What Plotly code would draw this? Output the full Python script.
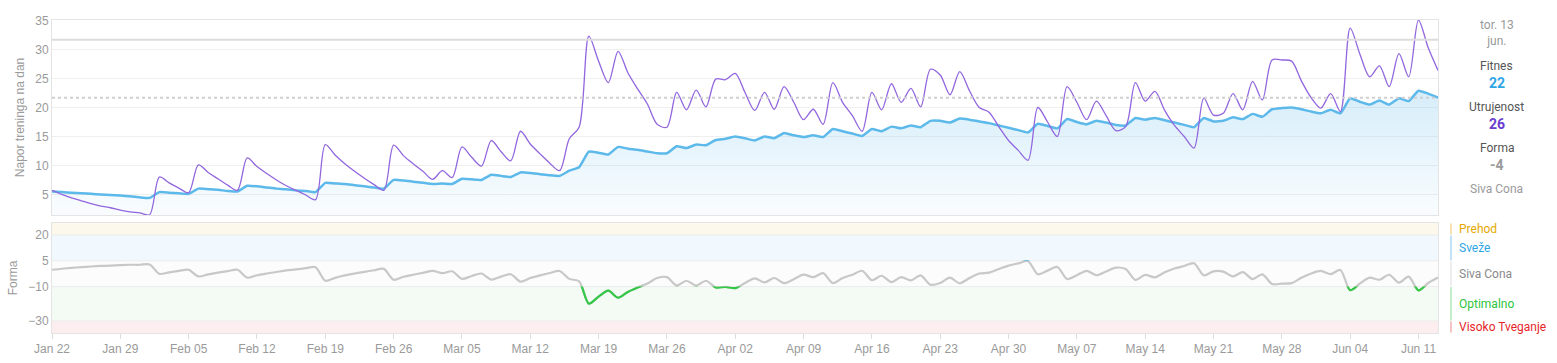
import pandas as pd
import plotly.graph_objects as go

# ---------------- data ----------------
start_date = "2023-01-22"
end_date = "2023-06-13"
dates = pd.date_range(start_date, end_date, freq="D")

fatigue = [
    5.7, 5.0, 4.4, 3.9, 3.4, 3.0, 2.7, 2.3, 2.0, 1.8,
    1.5, 8.0, 7.0, 6.1, 5.3, 10.1, 8.8, 7.7, 6.6, 5.7,
    11.3, 9.8, 8.6, 7.5, 6.5, 5.7, 4.9, 4.1, 13.6, 11.8,
    10.3, 9.0, 7.8, 6.7, 5.7, 13.5, 11.7, 10.3, 9.0, 7.6,
    9.1, 7.9, 13.2, 11.4, 9.9, 14.3, 12.4, 10.8, 15.9, 13.7,
    12.0, 10.4, 9.1, 14.6, 16.6, 32.3, 28.0, 24.3, 29.7, 26.0,
    23.2, 20.6, 17.1, 16.6, 22.6, 19.6, 23.0, 20.1, 24.9, 24.8,
    25.9, 22.6, 19.5, 22.6, 19.7, 23.6, 20.9, 17.9, 19.7, 17.1,
    24.3, 20.9, 18.6, 15.9, 22.6, 19.6, 24.1, 20.9, 23.3, 20.1,
    26.6, 25.6, 22.2, 26.2, 22.9, 20.0, 19.2, 16.7, 14.3, 12.6,
    10.9, 20.0, 17.5, 15.0, 23.6, 20.9, 17.9, 21.1, 18.6, 16.0,
    16.7, 24.3, 21.1, 22.8, 19.5, 16.9, 15.0, 13.0, 21.6, 18.7,
    19.0, 22.4, 19.6, 24.5, 21.3, 28.2, 28.2, 28.0, 24.6, 21.7,
    19.9, 22.4, 19.3, 33.7, 29.2, 25.3, 27.2, 23.6, 29.3, 25.3,
    35.1, 30.3, 26.4,
]

fitness = [
    5.5, 5.4, 5.3, 5.2, 5.1, 5.0, 4.9, 4.8, 4.7, 4.5,
    4.4, 5.4, 5.3, 5.2, 5.1, 6.0, 5.9, 5.8, 5.6, 5.5,
    6.5, 6.4, 6.2, 6.0, 5.9, 5.7, 5.6, 5.4, 7.0, 6.9,
    6.8, 6.6, 6.4, 6.2, 6.0, 7.5, 7.4, 7.2, 7.0, 6.8,
    6.9, 6.8, 7.7, 7.6, 7.5, 8.4, 8.2, 8.0, 8.8, 8.7,
    8.5, 8.3, 8.2, 9.1, 9.7, 12.4, 12.2, 11.9, 13.2, 12.9,
    12.7, 12.4, 12.1, 12.1, 13.3, 13.0, 13.6, 13.5, 14.4, 14.6,
    15.0, 14.7, 14.3, 15.0, 14.7, 15.6, 15.2, 14.9, 15.2, 14.9,
    16.3, 15.9, 15.5, 15.1, 16.3, 15.9, 16.7, 16.4, 16.9, 16.6,
    17.7, 17.7, 17.4, 18.1, 17.9, 17.6, 17.3, 16.9, 16.5, 16.1,
    15.7, 17.2, 16.8, 16.4, 18.0, 17.5, 17.1, 17.7, 17.4, 17.0,
    16.9, 18.2, 17.9, 18.2, 17.8, 17.4, 17.0, 16.6, 18.2, 17.6,
    17.7, 18.3, 18.0, 18.9, 18.4, 19.7, 19.9, 20.0, 19.7, 19.3,
    19.0, 19.6, 19.0, 21.6, 21.0, 20.5, 21.2, 20.5, 21.6, 21.1,
    22.9, 22.4, 21.7,
]

# Form (as the app shows it) = fitness - fatigue of the same day
form = [round(f - a, 1) for f, a in zip(fitness, fatigue)]

ref_solid = 31.7      # solid grey reference line (top chart)
ref_dotted = 21.7     # dotted grey line (current fitness)

zone_names = ["Prehod", "Sveže", "Siva Cona", "Optimalno", "Visoko Tveganje"]
zone_bounds = [(20, 27), (5, 20), (-10, 5), (-30, -10), (-37, -30)]
zone_fill = ["#fdf8ec", "#f1f8fe", "#fcfcfc", "#f4fbf4", "#fcedee"]
zone_bar = ["#f5e2b0", "#c3e2f5", "#eeeeee", "#c5ecc8", "#f4c4c4"]
zone_text = ["#e6a800", "#2ea6e6", "#8a8a8a", "#2cc43c", "#e8262a"]
form_ticks = [20, 5, -10, -30]

panel_date = "tor. 13<br>jun."
panel_fitness = "22"
panel_fatigue = "26"
panel_form = "-4"
panel_zone = "Siva Cona"

# ---------------- layout geometry ----------------
W, H = 1557, 363
ML, MR, MT, MB = 52, 119, 20, 30
PH = H - MT - MB
def py(ypix):
    return (H - MB - ypix) / PH
def px(xpix):
    return (xpix - ML) / (W - ML - MR)

top_dom = [py(215), 1.0]
bot_dom = [0.0, py(223)]
top_range = [1.45, 35.1]
bot_range = [-37, 27]

def sub_dom(lo, hi):
    span = bot_range[1] - bot_range[0]
    h = bot_dom[1] - bot_dom[0]
    return [bot_dom[0] + (lo - bot_range[0]) / span * h,
            bot_dom[0] + (hi - bot_range[0]) / span * h]

AX_FONT = dict(family="Liberation Sans, Arial, sans-serif", size=12, color="#9a9a9a")
TXT_FONT = "Roboto, Arial, sans-serif"

fig = go.Figure()

# fitness (with gradient fill)
fig.add_trace(go.Scatter(
    x=dates, y=fitness, mode="lines", name="Fitnes",
    line=dict(color="#5cb9ea", width=2.5, shape="spline", smoothing=0.4),
    fill="tozeroy",
    fillgradient=dict(type="vertical", start=0, stop=22,
                      colorscale=[[0, "rgba(92,184,235,0.02)"], [1, "rgba(92,184,235,0.24)"]]),
    xaxis="x", yaxis="y", hoverinfo="skip", showlegend=False,
))
# fatigue
fig.add_trace(go.Scatter(
    x=dates, y=fatigue, mode="lines", name="Utrujenost",
    line=dict(color="#9166de", width=1.3, shape="spline", smoothing=0.85),
    xaxis="x", yaxis="y", hoverinfo="skip", showlegend=False,
))

# form: grey everywhere, coloured within zones via clipped overlay axes
fig.add_trace(go.Scatter(
    x=dates, y=form, mode="lines",
    line=dict(color="#c8c8c8", width=2.2, shape="spline", smoothing=0.8),
    xaxis="x2", yaxis="y2", hoverinfo="skip", showlegend=False,
))
fig.add_trace(go.Scatter(
    x=dates, y=form, mode="lines",
    line=dict(color="#33c845", width=2.2, shape="spline", smoothing=0.8),
    xaxis="x3", yaxis="y3", hoverinfo="skip", showlegend=False,
))
fig.add_trace(go.Scatter(
    x=dates, y=form, mode="lines",
    line=dict(color="#4db5ea", width=2.2, shape="spline", smoothing=0.8),
    xaxis="x4", yaxis="y4", hoverinfo="skip", showlegend=False,
))

xr = [start_date, end_date]
common_x = dict(range=xr, type="date", showgrid=False, zeroline=False, automargin=False)
fig.update_layout(
    width=W, height=H,
    margin=dict(l=ML, r=MR, t=MT, b=MB, autoexpand=False),
    paper_bgcolor="white", plot_bgcolor="rgba(0,0,0,0)",
    showlegend=False,
    xaxis=dict(**common_x, domain=[0, 1], anchor="y", showticklabels=False,
               showline=True, mirror=True, linecolor="#e4e4e4", linewidth=1, ticks=""),
    yaxis=dict(domain=top_dom, range=top_range, anchor="x", automargin=False,
               tickvals=[5, 10, 15, 20, 25, 30, 35], tickfont=AX_FONT,
               showgrid=True, gridcolor="#efefef", gridwidth=1, zeroline=False,
               showline=True, mirror=True, linecolor="#e4e4e4", linewidth=1,
               ticks="", ticklen=0,
               title=dict(text="Napor treninga na dan", font=AX_FONT, standoff=8)),
    xaxis2=dict(**common_x, domain=[0, 1], anchor="y2", tickformat="%b %d",
                tick0="2023-01-22", dtick=7 * 86400000, tickfont=AX_FONT,
                ticks="outside", ticklen=5, tickcolor="#dddddd",
                showline=True, mirror=True, linecolor="#e4e4e4", linewidth=1),
    yaxis2=dict(domain=bot_dom, range=bot_range, anchor="x2", automargin=False,
                tickvals=form_ticks, tickfont=AX_FONT, showgrid=False, zeroline=False,
                showline=True, mirror=True, linecolor="#e4e4e4", linewidth=1,
                ticks="",
                title=dict(text="Forma", font=AX_FONT, standoff=8)),
    xaxis3=dict(**common_x, domain=[0, 1], anchor="y3", visible=False),
    yaxis3=dict(domain=sub_dom(-30, -10), range=[-30, -10], anchor="x3", visible=False,
                automargin=False),
    xaxis4=dict(**common_x, domain=[0, 1], anchor="y4", visible=False),
    yaxis4=dict(domain=sub_dom(5, 20), range=[5, 20], anchor="x4", visible=False,
                automargin=False),
)

shapes = []
# zone background bands and legend bars
for (lo, hi), fc, bc in zip(zone_bounds, zone_fill, zone_bar):
    shapes.append(dict(type="rect", xref="x2 domain", yref="y2", x0=0, x1=1, y0=lo, y1=hi,
                       fillcolor=fc, line=dict(width=0), layer="below"))
    shapes.append(dict(type="line", xref="paper", yref="y2", x0=px(1451), x1=px(1451),
                       y0=lo + 0.3, y1=hi - 0.3, line=dict(color=bc, width=2)))
for b in [20, 5, -10, -30]:
    shapes.append(dict(type="line", xref="x2 domain", yref="y2", x0=0, x1=1, y0=b, y1=b,
                       line=dict(color="#ececec", width=1), layer="below"))
# reference lines on top chart
shapes.append(dict(type="line", xref="x domain", yref="y", x0=0, x1=1, y0=ref_solid, y1=ref_solid,
                   line=dict(color="#dcdcdc", width=2)))
shapes.append(dict(type="line", xref="x domain", yref="y", x0=0, x1=1, y0=ref_dotted, y1=ref_dotted,
                   line=dict(color="#cfcfcf", width=2, dash="dot")))
fig.update_layout(shapes=shapes)

ann = []
for name, (lo, hi), tc in zip(zone_names, zone_bounds, zone_text):
    ann.append(dict(text=name, xref="paper", yref="y2", x=px(1457), y=(lo + hi) / 2,
                    xanchor="left", yanchor="middle", showarrow=False,
                    font=dict(family=TXT_FONT, size=12, color=tc)))

cx = px(1497)
def panel(text, ypix, color, size=12, bold=False):
    t = f"<b>{text}</b>" if bold else text
    ann.append(dict(text=t, xref="paper", yref="paper", x=cx, y=py(ypix),
                    xanchor="center", yanchor="middle", showarrow=False,
                    font=dict(family=TXT_FONT, size=size, color=color)))
panel(panel_date, 33, "#9a9a9a", 12)
panel("Fitnes", 66, "#555555", 12)
panel(panel_fitness, 83, "#2ea6e6", 14, True)
panel("Utrujenost", 107, "#555555", 12)
panel(panel_fatigue, 124, "#6a3dd0", 14, True)
panel("Forma", 148, "#555555", 12)
panel(panel_form, 165, "#9a9a9a", 14, True)
panel(panel_zone, 189, "#9a9a9a", 12)
fig.update_layout(annotations=ann)

fig.write_html("out.html", config={"displayModeBar": False},
               post_script="document.body.style.margin='0';")
